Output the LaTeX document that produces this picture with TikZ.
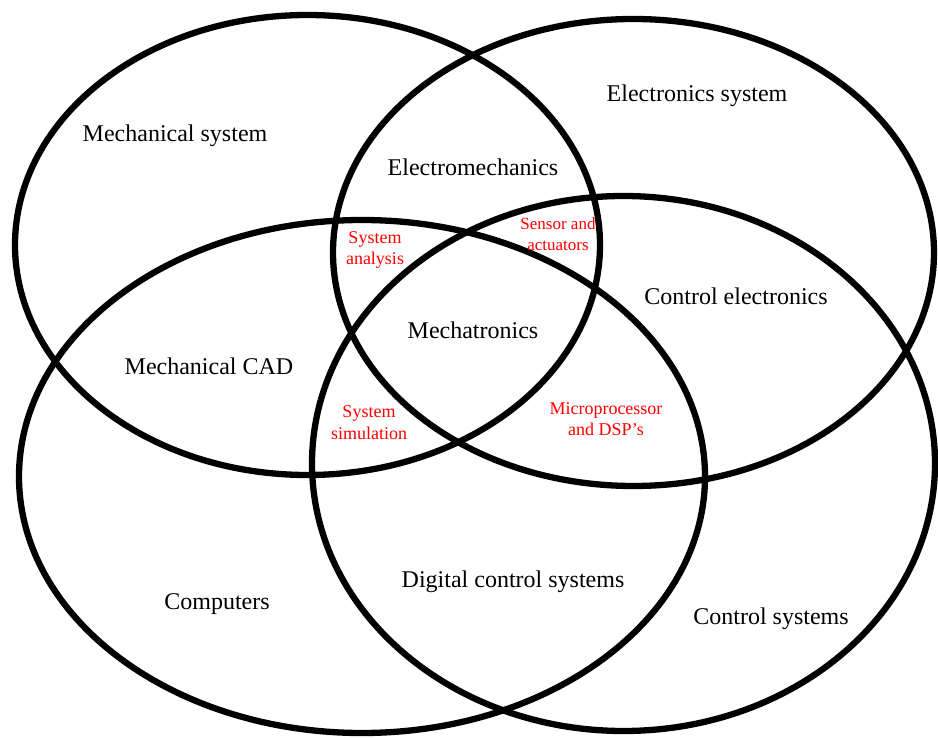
\documentclass[tikz,border=0pt]{standalone}
\usepackage{fontspec}
\setmainfont{Liberation Serif}
\begin{document}
\begin{tikzpicture}[x=1pt,y=-1pt,
  ring/.style={draw=black,line width=6.3pt},
  lbl/.style={font=\fontsize{24}{28}\selectfont,text=black,inner sep=0pt},
  red/.style={font=\fontsize{18}{21.5}\selectfont,text=red,align=center,inner sep=0pt},
  reds/.style={font=\fontsize{17}{21.5}\selectfont,text=red,align=center,inner sep=0pt}]
\useasboundingbox[fill=white] (0,0) rectangle (938,738);
\draw[ring] (307.5,245) ellipse [x radius=292.5pt, y radius=230pt];
\draw[ring] (633.5,252.5) ellipse [x radius=300.5pt, y radius=233.5pt];
\draw[ring] (362,476.5) ellipse [x radius=343pt, y radius=256.5pt];
\draw[ring] (623.5,463.5) ellipse [x radius=311.5pt, y radius=267.5pt];
\node[lbl] (ms) at (175,136) {Mechanical system};
\node[lbl] (es) at (697,96) {Electronics system};
\node[lbl] (em) at (473,167) {Electromechanics};
\node[lbl] (ce) at (736,296) {Control electronics};
\node[lbl] (mt) at (473,330) {Mechatronics};
\node[lbl] (mc) at (209,366) {Mechanical CAD};
\node[lbl] (co) at (217,604) {Computers};
\node[lbl] (dc) at (513,582) {Digital control systems};
\node[lbl] (cs) at (771,619) {Control systems};
\node[red] (sa) at (375,250) {System\\analysis};
\node[reds] (sn) at (558,234) {Sensor and\\actuators};
\node[red] (ss) at (369,422.5) {System\\simulation};
\node[red] (mp) at (606,419) {Microprocessor\\and DSP’s};
\end{tikzpicture}
\end{document}
